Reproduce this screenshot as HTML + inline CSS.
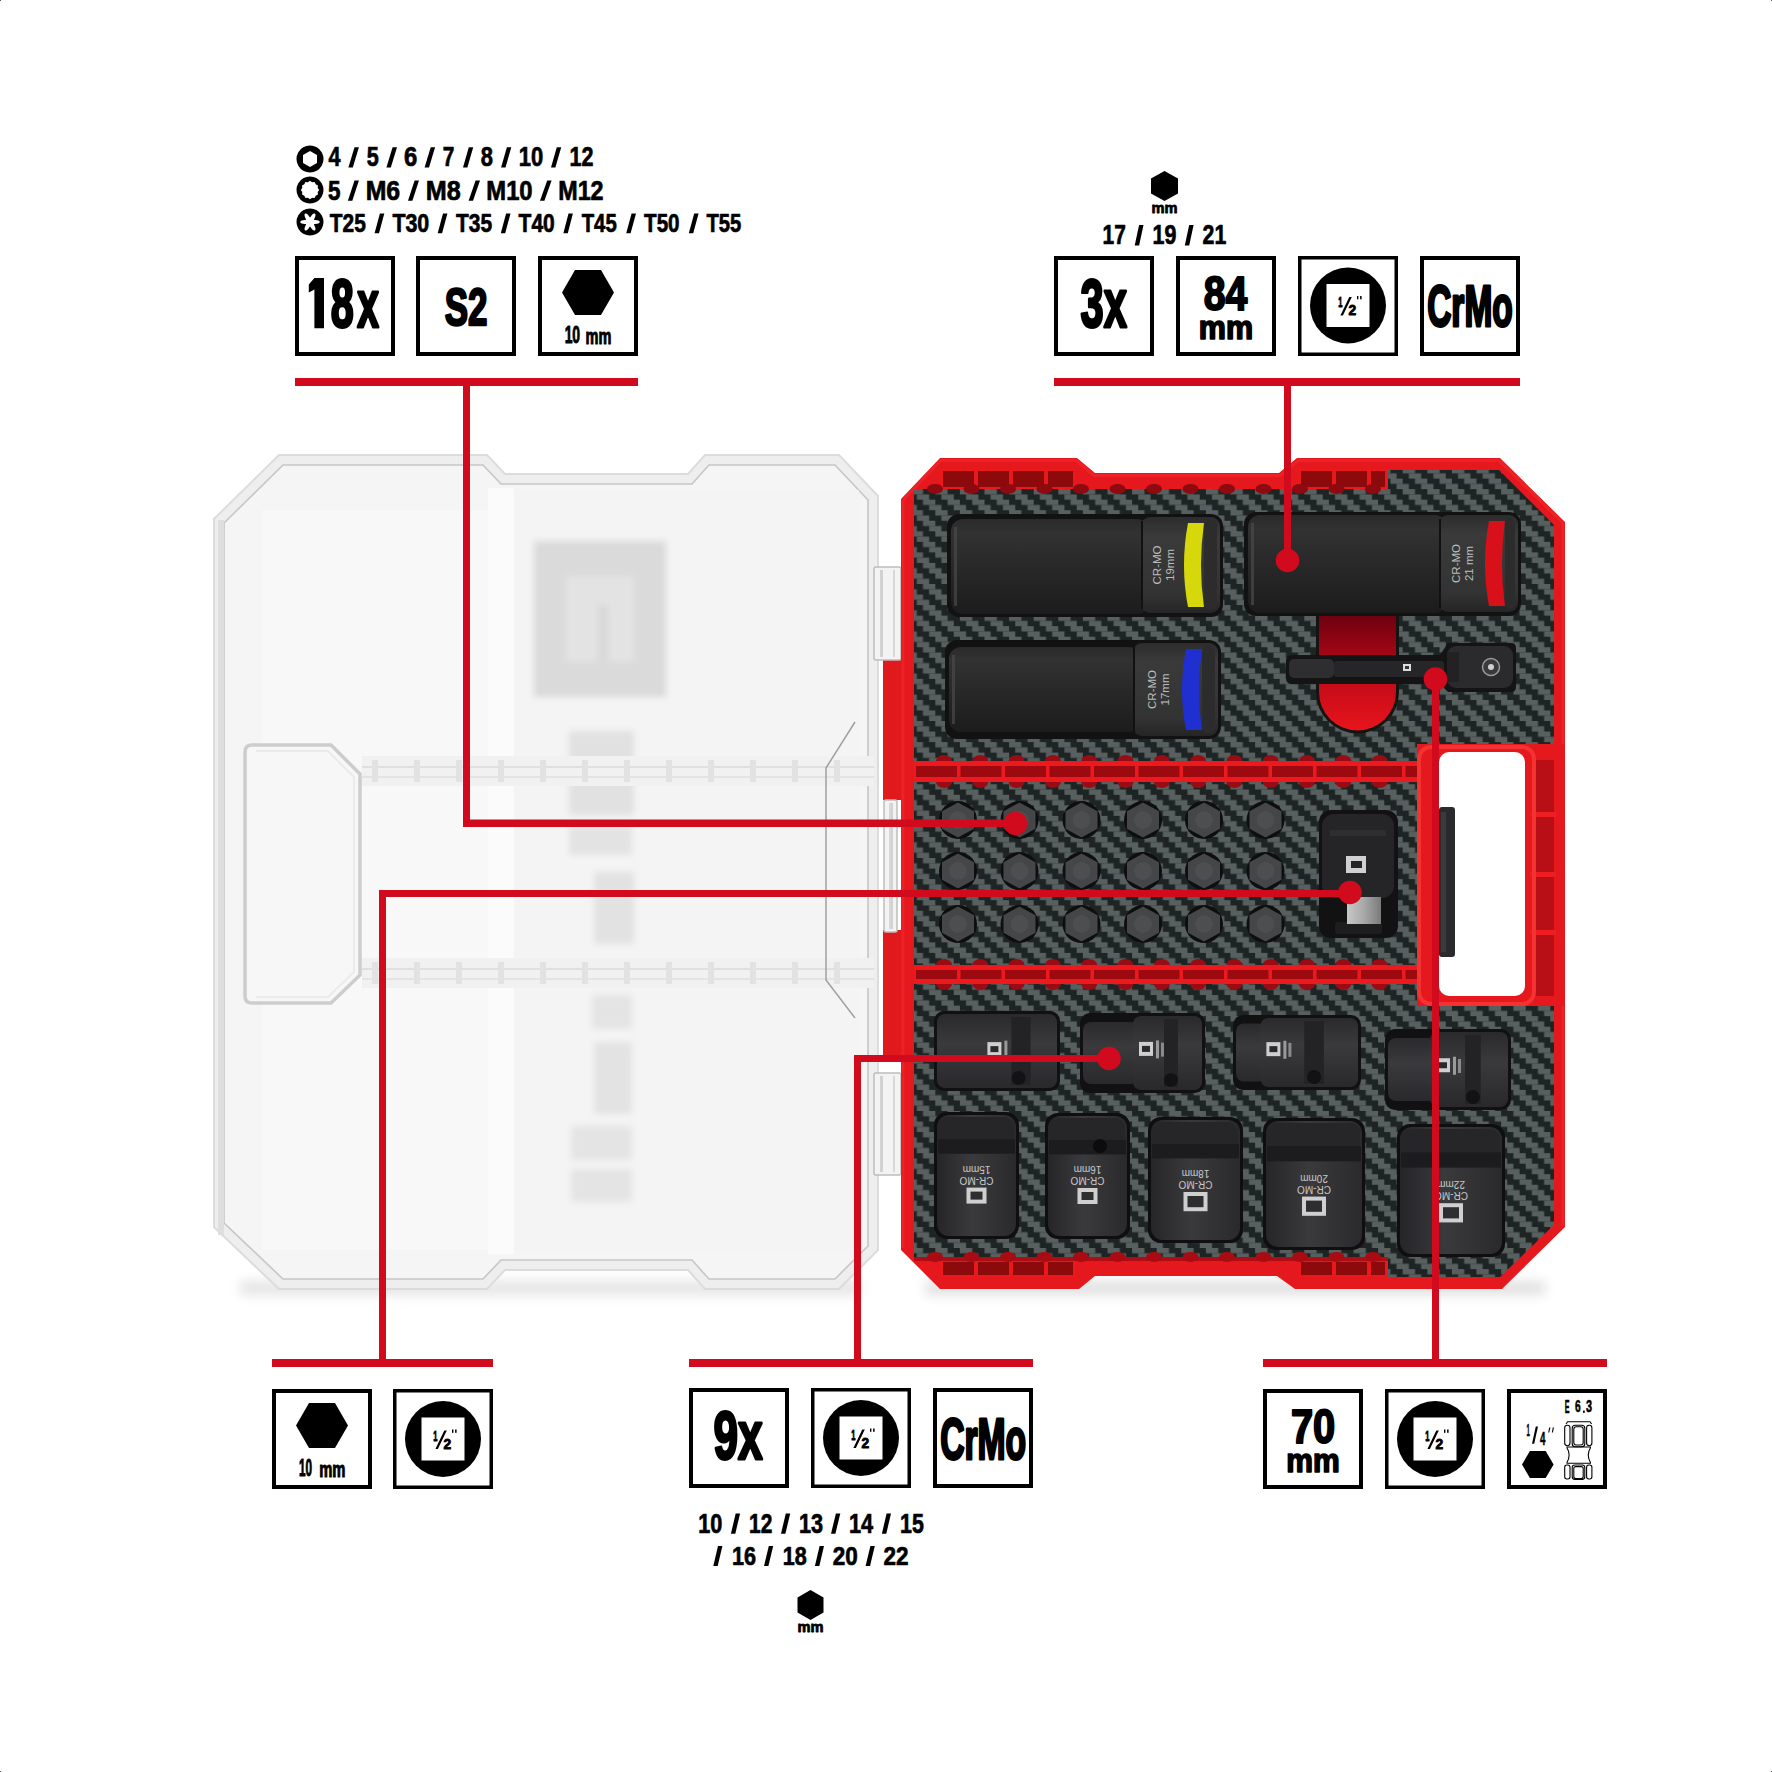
<!DOCTYPE html>
<html><head><meta charset="utf-8"><title>Impact socket set</title>
<style>
html,body{margin:0;padding:0;background:#fff;}
body{width:1772px;height:1772px;overflow:hidden;position:relative;}
svg{position:absolute;left:0;top:0;display:block;}
text{font-family:"Liberation Sans",sans-serif;font-weight:bold;}
</style></head><body>
<svg width="1772" height="1772" viewBox="0 0 1772 1772">
<defs><pattern id="cf" patternUnits="userSpaceOnUse" width="24.6" height="21.08" x="0.5" y="4.3"><rect width="24.6" height="21.08" fill="#1e2424"/><rect x="0.00" y="0.00" width="12.30" height="5.27" fill="#585f5f"/><rect x="6.15" y="5.27" width="12.30" height="5.27" fill="#585f5f"/><rect x="12.30" y="10.54" width="12.30" height="5.27" fill="#585f5f"/><rect x="18.45" y="15.81" width="6.15" height="5.27" fill="#585f5f"/><rect x="0.00" y="15.81" width="6.15" height="5.27" fill="#585f5f"/></pattern><linearGradient id="sh" x1="0" y1="0" x2="0" y2="1"><stop offset="0" stop-color="#e2e2e2"/><stop offset="1" stop-color="#ffffff" stop-opacity="0"/></linearGradient><linearGradient id="sock" x1="0" y1="0" x2="0" y2="1"><stop offset="0" stop-color="#2a2a2b"/><stop offset="0.15" stop-color="#323233"/><stop offset="0.6" stop-color="#262627"/><stop offset="1" stop-color="#1c1c1d"/></linearGradient><linearGradient id="sockend" x1="0" y1="0" x2="0" y2="1"><stop offset="0" stop-color="#2c2c2d"/><stop offset="0.2" stop-color="#3a3a3b"/><stop offset="0.8" stop-color="#333334"/><stop offset="1" stop-color="#252526"/></linearGradient><linearGradient id="sockv" x1="0" y1="0" x2="1" y2="0"><stop offset="0" stop-color="#262628"/><stop offset="0.45" stop-color="#3a3a3c"/><stop offset="1" stop-color="#2a2a2c"/></linearGradient><linearGradient id="sockh" x1="0" y1="0" x2="0" y2="1"><stop offset="0" stop-color="#2a2a2c"/><stop offset="0.4" stop-color="#3a3a3c"/><stop offset="1" stop-color="#29292b"/></linearGradient><linearGradient id="slotred" x1="0" y1="0" x2="0" y2="1"><stop offset="0" stop-color="#6a0010"/><stop offset="0.55" stop-color="#c00a18"/><stop offset="1" stop-color="#e8141c"/></linearGradient><linearGradient id="silver" x1="0" y1="0" x2="1" y2="0"><stop offset="0" stop-color="#c8c8c8"/><stop offset="0.5" stop-color="#a8a8a8"/><stop offset="1" stop-color="#7a7a7a"/></linearGradient><filter id="blur3" x="-10%" y="-10%" width="120%" height="120%"><feGaussianBlur stdDeviation="3"/></filter><filter id="blur6" x="-10%" y="-100%" width="120%" height="300%"><feGaussianBlur stdDeviation="6"/></filter><filter id="blur1" x="-10%" y="-10%" width="120%" height="120%"><feGaussianBlur stdDeviation="1.2"/></filter></defs>
<g filter="url(#blur6)"><rect x="240" y="1281" width="620" height="14" fill="#e4e4e4"/><rect x="925" y="1281" width="620" height="14" fill="#e0e0e0"/></g>
<polygon points="279.0,455.0 487.0,455.0 505.0,474.0 688.0,474.0 705.0,455.0 839.0,455.0 878.0,496.0 878.0,1250.0 839.0,1289.0 705.0,1289.0 688.0,1270.0 505.0,1270.0 487.0,1289.0 279.0,1289.0 214.0,1227.0 214.0,519.0" fill="#eeeeee" stroke="#dcdcdc" stroke-width="2"/>
<polygon points="283.0,465.0 483.0,465.0 501.0,484.0 692.0,484.0 709.0,465.0 835.0,465.0 868.0,500.0 868.0,1246.0 835.0,1279.0 709.0,1279.0 692.0,1260.0 501.0,1260.0 483.0,1279.0 283.0,1279.0 224.0,1223.0 224.0,523.0" fill="#f5f5f6" stroke="#c6c6c6" stroke-width="1.6"/>
<rect x="218" y="520" width="6" height="715" fill="#dedede"/>
<rect x="262" y="510" width="590" height="740" fill="#f8f8f8"/>
<rect x="514" y="490" width="345" height="760" fill="#f4f4f5"/>
<rect x="488" y="488" width="26" height="766" fill="#fbfbfb"/>
<g filter="url(#blur3)">
<rect x="534" y="541" width="132" height="156" fill="#dadada"/>
<rect x="566" y="576" width="68" height="86" fill="#e3e3e3"/>
<rect x="598" y="605" width="10" height="57" fill="#d8d8d8"/>
<rect x="569" y="731" width="65" height="84" fill="#e1e1e1"/>
<rect x="569" y="826" width="63" height="29" fill="#e3e3e3"/>
<rect x="594" y="872" width="40" height="72" fill="#e2e2e2"/>
<rect x="592" y="995" width="40" height="34" fill="#e4e4e4"/>
<rect x="594" y="1042" width="38" height="72" fill="#e3e3e3"/>
<rect x="571" y="1126" width="61" height="34" fill="#e4e4e4"/>
<rect x="571" y="1169" width="61" height="33" fill="#e4e4e4"/>
</g>
<rect x="362" y="756" width="512" height="30" fill="#f1f1f1"/>
<rect x="362" y="766" width="512" height="2" fill="#e0e0e0"/>
<rect x="362" y="776" width="512" height="2" fill="#e4e4e4"/>
<rect x="372" y="760" width="6" height="22" fill="#e2e2e2"/>
<rect x="414" y="760" width="6" height="22" fill="#e2e2e2"/>
<rect x="456" y="760" width="6" height="22" fill="#e2e2e2"/>
<rect x="498" y="760" width="6" height="22" fill="#e2e2e2"/>
<rect x="540" y="760" width="6" height="22" fill="#e2e2e2"/>
<rect x="582" y="760" width="6" height="22" fill="#e2e2e2"/>
<rect x="624" y="760" width="6" height="22" fill="#e2e2e2"/>
<rect x="666" y="760" width="6" height="22" fill="#e2e2e2"/>
<rect x="708" y="760" width="6" height="22" fill="#e2e2e2"/>
<rect x="750" y="760" width="6" height="22" fill="#e2e2e2"/>
<rect x="792" y="760" width="6" height="22" fill="#e2e2e2"/>
<rect x="834" y="760" width="6" height="22" fill="#e2e2e2"/>
<rect x="362" y="958" width="512" height="30" fill="#f1f1f1"/>
<rect x="362" y="968" width="512" height="2" fill="#e0e0e0"/>
<rect x="362" y="978" width="512" height="2" fill="#e4e4e4"/>
<rect x="372" y="962" width="6" height="22" fill="#e2e2e2"/>
<rect x="414" y="962" width="6" height="22" fill="#e2e2e2"/>
<rect x="456" y="962" width="6" height="22" fill="#e2e2e2"/>
<rect x="498" y="962" width="6" height="22" fill="#e2e2e2"/>
<rect x="540" y="962" width="6" height="22" fill="#e2e2e2"/>
<rect x="582" y="962" width="6" height="22" fill="#e2e2e2"/>
<rect x="624" y="962" width="6" height="22" fill="#e2e2e2"/>
<rect x="666" y="962" width="6" height="22" fill="#e2e2e2"/>
<rect x="708" y="962" width="6" height="22" fill="#e2e2e2"/>
<rect x="750" y="962" width="6" height="22" fill="#e2e2e2"/>
<rect x="792" y="962" width="6" height="22" fill="#e2e2e2"/>
<rect x="834" y="962" width="6" height="22" fill="#e2e2e2"/>
<path d="M252,745 L331,745 L360,774 L360,975 L331,1003 L252,1003 Q245,1003 245,996 L245,752 Q245,745 252,745 Z" fill="#f7f7f7" stroke="#cdcdcd" stroke-width="3.5"/>
<path d="M256,751 L328,751 L354,777 L354,972 L328,997 L256,997" fill="none" stroke="#ebebeb" stroke-width="2"/>
<polyline points="855,722 826,768 826,980 855,1018" fill="none" stroke="#a0a0a0" stroke-width="1.5"/>
<rect x="883" y="640" width="18" height="160" fill="#e01a1c"/>
<rect x="883" y="930" width="18" height="130" fill="#e01a1c"/>
<rect x="874" y="567" width="27" height="93" rx="2" fill="#f3f3f3" stroke="#bdbdbd" stroke-width="1.5"/>
<rect x="880" y="570" width="3" height="87" fill="#d2d2d2"/>
<rect x="893" y="570" width="2" height="87" fill="#d8d8d8"/>
<rect x="884" y="800" width="13" height="132" rx="2" fill="#f3f3f3" stroke="#bdbdbd" stroke-width="1.5"/>
<rect x="890" y="803" width="3" height="126" fill="#d2d2d2"/>
<rect x="889" y="803" width="2" height="126" fill="#d8d8d8"/>
<rect x="874" y="1073" width="27" height="102" rx="2" fill="#f3f3f3" stroke="#bdbdbd" stroke-width="1.5"/>
<rect x="880" y="1076" width="3" height="96" fill="#d2d2d2"/>
<rect x="893" y="1076" width="2" height="96" fill="#d8d8d8"/>
<polygon points="940.0,458.0 1077.0,458.0 1095.0,473.0 1279.0,473.0 1297.0,458.0 1500.0,458.0 1565.0,522.0 1565.0,1227.0 1502.0,1289.0 1295.0,1289.0 1277.0,1276.0 1095.0,1276.0 1079.0,1289.0 940.0,1289.0 901.0,1250.0 901.0,499.0" fill="#e5181d" />
<polyline points="903,1248 903,500 940.5,460.5 1076,460.5 1094,475.5 1280,475.5 1298,460.5 1499,460.5 1563,523 1563,1226" fill="none" stroke="#ee2226" stroke-width="3"/>
<polygon points="914.0,489.0 1388.0,489.0 1388.0,470.0 1499.0,470.0 1554.0,525.0 1554.0,1225.0 1500.0,1277.0 1388.0,1277.0 1388.0,1257.0 914.0,1257.0" fill="url(#cf)" />
<rect x="940" y="469" width="136" height="20" fill="#e8181d"/>
<rect x="943" y="471" width="31" height="16" fill="#8c0a0c"/>
<rect x="978" y="471" width="31" height="16" fill="#8c0a0c"/>
<rect x="1013" y="471" width="31" height="16" fill="#8c0a0c"/>
<rect x="1048" y="471" width="25" height="16" fill="#8c0a0c"/>
<rect x="1298" y="469" width="90" height="20" fill="#e8181d"/>
<rect x="1301" y="471" width="31" height="16" fill="#8c0a0c"/>
<rect x="1336" y="471" width="31" height="16" fill="#8c0a0c"/>
<rect x="1371" y="471" width="14" height="16" fill="#8c0a0c"/>
<rect x="940" y="1260" width="136" height="17" fill="#e8181d"/>
<rect x="943" y="1262" width="31" height="13" fill="#8c0a0c"/>
<rect x="978" y="1262" width="31" height="13" fill="#8c0a0c"/>
<rect x="1013" y="1262" width="31" height="13" fill="#8c0a0c"/>
<rect x="1048" y="1262" width="25" height="13" fill="#8c0a0c"/>
<rect x="1298" y="1260" width="90" height="17" fill="#e8181d"/>
<rect x="1301" y="1262" width="31" height="13" fill="#8c0a0c"/>
<rect x="1336" y="1262" width="31" height="13" fill="#8c0a0c"/>
<rect x="1371" y="1262" width="14" height="13" fill="#8c0a0c"/>
<rect x="914" y="1257" width="474" height="4" fill="#b00c14"/>
<ellipse cx="935.0" cy="489" rx="8" ry="5" fill="#8c0a10"/>
<ellipse cx="935.0" cy="1257" rx="8" ry="5" fill="#a80c12"/>
<ellipse cx="971.5" cy="489" rx="8" ry="5" fill="#8c0a10"/>
<ellipse cx="971.5" cy="1257" rx="8" ry="5" fill="#a80c12"/>
<ellipse cx="1008.0" cy="489" rx="8" ry="5" fill="#8c0a10"/>
<ellipse cx="1008.0" cy="1257" rx="8" ry="5" fill="#a80c12"/>
<ellipse cx="1044.5" cy="489" rx="8" ry="5" fill="#8c0a10"/>
<ellipse cx="1044.5" cy="1257" rx="8" ry="5" fill="#a80c12"/>
<ellipse cx="1081.0" cy="489" rx="8" ry="5" fill="#8c0a10"/>
<ellipse cx="1081.0" cy="1257" rx="8" ry="5" fill="#a80c12"/>
<ellipse cx="1117.5" cy="489" rx="8" ry="5" fill="#8c0a10"/>
<ellipse cx="1117.5" cy="1257" rx="8" ry="5" fill="#a80c12"/>
<ellipse cx="1154.0" cy="489" rx="8" ry="5" fill="#8c0a10"/>
<ellipse cx="1154.0" cy="1257" rx="8" ry="5" fill="#a80c12"/>
<ellipse cx="1190.5" cy="489" rx="8" ry="5" fill="#8c0a10"/>
<ellipse cx="1190.5" cy="1257" rx="8" ry="5" fill="#a80c12"/>
<ellipse cx="1227.0" cy="489" rx="8" ry="5" fill="#8c0a10"/>
<ellipse cx="1227.0" cy="1257" rx="8" ry="5" fill="#a80c12"/>
<ellipse cx="1263.5" cy="489" rx="8" ry="5" fill="#8c0a10"/>
<ellipse cx="1263.5" cy="1257" rx="8" ry="5" fill="#a80c12"/>
<ellipse cx="1300.0" cy="489" rx="8" ry="5" fill="#8c0a10"/>
<ellipse cx="1300.0" cy="1257" rx="8" ry="5" fill="#a80c12"/>
<ellipse cx="1336.5" cy="489" rx="8" ry="5" fill="#8c0a10"/>
<ellipse cx="1336.5" cy="1257" rx="8" ry="5" fill="#a80c12"/>
<ellipse cx="1373.0" cy="489" rx="8" ry="5" fill="#8c0a10"/>
<ellipse cx="1373.0" cy="1257" rx="8" ry="5" fill="#a80c12"/>
<ellipse cx="944.0" cy="761" rx="8" ry="6" fill="#9a0c14"/>
<ellipse cx="944.0" cy="782" rx="8" ry="6" fill="#9a0c14"/>
<ellipse cx="980.3" cy="761" rx="8" ry="6" fill="#9a0c14"/>
<ellipse cx="980.3" cy="782" rx="8" ry="6" fill="#9a0c14"/>
<ellipse cx="1016.6" cy="761" rx="8" ry="6" fill="#9a0c14"/>
<ellipse cx="1016.6" cy="782" rx="8" ry="6" fill="#9a0c14"/>
<ellipse cx="1052.9" cy="761" rx="8" ry="6" fill="#9a0c14"/>
<ellipse cx="1052.9" cy="782" rx="8" ry="6" fill="#9a0c14"/>
<ellipse cx="1089.2" cy="761" rx="8" ry="6" fill="#9a0c14"/>
<ellipse cx="1089.2" cy="782" rx="8" ry="6" fill="#9a0c14"/>
<ellipse cx="1125.5" cy="761" rx="8" ry="6" fill="#9a0c14"/>
<ellipse cx="1125.5" cy="782" rx="8" ry="6" fill="#9a0c14"/>
<ellipse cx="1161.8" cy="761" rx="8" ry="6" fill="#9a0c14"/>
<ellipse cx="1161.8" cy="782" rx="8" ry="6" fill="#9a0c14"/>
<ellipse cx="1198.1" cy="761" rx="8" ry="6" fill="#9a0c14"/>
<ellipse cx="1198.1" cy="782" rx="8" ry="6" fill="#9a0c14"/>
<ellipse cx="1234.4" cy="761" rx="8" ry="6" fill="#9a0c14"/>
<ellipse cx="1234.4" cy="782" rx="8" ry="6" fill="#9a0c14"/>
<ellipse cx="1270.7" cy="761" rx="8" ry="6" fill="#9a0c14"/>
<ellipse cx="1270.7" cy="782" rx="8" ry="6" fill="#9a0c14"/>
<ellipse cx="1307.0" cy="761" rx="8" ry="6" fill="#9a0c14"/>
<ellipse cx="1307.0" cy="782" rx="8" ry="6" fill="#9a0c14"/>
<ellipse cx="1343.3" cy="761" rx="8" ry="6" fill="#9a0c14"/>
<ellipse cx="1343.3" cy="782" rx="8" ry="6" fill="#9a0c14"/>
<ellipse cx="1379.6" cy="761" rx="8" ry="6" fill="#9a0c14"/>
<ellipse cx="1379.6" cy="782" rx="8" ry="6" fill="#9a0c14"/>
<rect x="914" y="761" width="506" height="21" fill="#ec1a1e"/>
<rect x="916" y="766" width="41" height="11" fill="#9c0a10"/>
<rect x="960.5" y="766" width="41" height="11" fill="#9c0a10"/>
<rect x="1005.0" y="766" width="41" height="11" fill="#9c0a10"/>
<rect x="1049.5" y="766" width="41" height="11" fill="#9c0a10"/>
<rect x="1094.0" y="766" width="41" height="11" fill="#9c0a10"/>
<rect x="1138.5" y="766" width="41" height="11" fill="#9c0a10"/>
<rect x="1183.0" y="766" width="41" height="11" fill="#9c0a10"/>
<rect x="1227.5" y="766" width="41" height="11" fill="#9c0a10"/>
<rect x="1272.0" y="766" width="41" height="11" fill="#9c0a10"/>
<rect x="1316.5" y="766" width="41" height="11" fill="#9c0a10"/>
<rect x="1361.0" y="766" width="41" height="11" fill="#9c0a10"/>
<rect x="1405.5" y="766" width="11.5" height="11" fill="#9c0a10"/>
<ellipse cx="944.0" cy="965" rx="8" ry="6" fill="#9a0c14"/>
<ellipse cx="944.0" cy="984" rx="8" ry="6" fill="#9a0c14"/>
<ellipse cx="980.3" cy="965" rx="8" ry="6" fill="#9a0c14"/>
<ellipse cx="980.3" cy="984" rx="8" ry="6" fill="#9a0c14"/>
<ellipse cx="1016.6" cy="965" rx="8" ry="6" fill="#9a0c14"/>
<ellipse cx="1016.6" cy="984" rx="8" ry="6" fill="#9a0c14"/>
<ellipse cx="1052.9" cy="965" rx="8" ry="6" fill="#9a0c14"/>
<ellipse cx="1052.9" cy="984" rx="8" ry="6" fill="#9a0c14"/>
<ellipse cx="1089.2" cy="965" rx="8" ry="6" fill="#9a0c14"/>
<ellipse cx="1089.2" cy="984" rx="8" ry="6" fill="#9a0c14"/>
<ellipse cx="1125.5" cy="965" rx="8" ry="6" fill="#9a0c14"/>
<ellipse cx="1125.5" cy="984" rx="8" ry="6" fill="#9a0c14"/>
<ellipse cx="1161.8" cy="965" rx="8" ry="6" fill="#9a0c14"/>
<ellipse cx="1161.8" cy="984" rx="8" ry="6" fill="#9a0c14"/>
<ellipse cx="1198.1" cy="965" rx="8" ry="6" fill="#9a0c14"/>
<ellipse cx="1198.1" cy="984" rx="8" ry="6" fill="#9a0c14"/>
<ellipse cx="1234.4" cy="965" rx="8" ry="6" fill="#9a0c14"/>
<ellipse cx="1234.4" cy="984" rx="8" ry="6" fill="#9a0c14"/>
<ellipse cx="1270.7" cy="965" rx="8" ry="6" fill="#9a0c14"/>
<ellipse cx="1270.7" cy="984" rx="8" ry="6" fill="#9a0c14"/>
<ellipse cx="1307.0" cy="965" rx="8" ry="6" fill="#9a0c14"/>
<ellipse cx="1307.0" cy="984" rx="8" ry="6" fill="#9a0c14"/>
<ellipse cx="1343.3" cy="965" rx="8" ry="6" fill="#9a0c14"/>
<ellipse cx="1343.3" cy="984" rx="8" ry="6" fill="#9a0c14"/>
<ellipse cx="1379.6" cy="965" rx="8" ry="6" fill="#9a0c14"/>
<ellipse cx="1379.6" cy="984" rx="8" ry="6" fill="#9a0c14"/>
<rect x="914" y="965" width="506" height="19" fill="#ec1a1e"/>
<rect x="916" y="970" width="41" height="9" fill="#9c0a10"/>
<rect x="960.5" y="970" width="41" height="9" fill="#9c0a10"/>
<rect x="1005.0" y="970" width="41" height="9" fill="#9c0a10"/>
<rect x="1049.5" y="970" width="41" height="9" fill="#9c0a10"/>
<rect x="1094.0" y="970" width="41" height="9" fill="#9c0a10"/>
<rect x="1138.5" y="970" width="41" height="9" fill="#9c0a10"/>
<rect x="1183.0" y="970" width="41" height="9" fill="#9c0a10"/>
<rect x="1227.5" y="970" width="41" height="9" fill="#9c0a10"/>
<rect x="1272.0" y="970" width="41" height="9" fill="#9c0a10"/>
<rect x="1316.5" y="970" width="41" height="9" fill="#9c0a10"/>
<rect x="1361.0" y="970" width="41" height="9" fill="#9c0a10"/>
<rect x="1405.5" y="970" width="11.5" height="9" fill="#9c0a10"/>
<rect x="1417" y="744" width="148" height="262" fill="#e5181d"/>
<rect x="1532" y="760" width="22" height="236" fill="#b80e16"/>
<rect x="1530" y="812" width="26" height="5" fill="#ec1e22"/>
<rect x="1530" y="872" width="26" height="5" fill="#ec1e22"/>
<rect x="1530" y="930" width="26" height="5" fill="#ec1e22"/>
<rect x="1419" y="747" width="115" height="257" rx="12" fill="none" stroke="#f43232" stroke-width="4"/>
<rect x="1439" y="752" width="86" height="244" rx="10" fill="#ffffff"/>
<rect x="1439" y="807" width="16" height="150" rx="3" fill="#2a2a2c"/>
<rect x="1441" y="812" width="5" height="140" fill="#3a3a3c"/>
<rect x="947" y="514" width="276" height="103" rx="12" fill="#121212"/>
<rect x="951" y="519" width="198" height="95" rx="12" fill="url(#sock)"/>
<rect x="954" y="527" width="3" height="79" fill="#4a4a4b" opacity="0.7"/>
<rect x="1141" y="517" width="79" height="96" rx="9" fill="url(#sockend)"/>
<rect x="1141" y="521" width="2" height="88" fill="#111"/>
<path d="M1188,523 L1204,523 Q1198,565.0 1204,607 L1188,607 Q1180,565.0 1188,523 Z" fill="#d6d80c"/>
<rect x="1204" y="520" width="13" height="90" rx="6" fill="#2c2c2d"/>
<text transform="translate(1160.5,565.0) rotate(-90)" text-anchor="middle" font-size="11.5" style="font-weight:normal" fill="#bdbdbd">CR-MO</text>
<text transform="translate(1173.5,565.0) rotate(-90)" text-anchor="middle" font-size="11.5" style="font-weight:normal" fill="#bdbdbd">19mm</text>
<rect x="945" y="640" width="276" height="99" rx="12" fill="#121212"/>
<rect x="949" y="647" width="192" height="85" rx="12" fill="url(#sock)"/>
<rect x="952" y="655" width="3" height="69" fill="#4a4a4b" opacity="0.7"/>
<rect x="1133" y="643" width="85" height="93" rx="9" fill="url(#sockend)"/>
<rect x="1133" y="647" width="2" height="85" fill="#111"/>
<path d="M1186,649 L1202,649 Q1196,689.5 1202,730 L1186,730 Q1178,689.5 1186,649 Z" fill="#2030d0"/>
<rect x="1202" y="646" width="13" height="87" rx="6" fill="#2c2c2d"/>
<text transform="translate(1155.5,689.5) rotate(-90)" text-anchor="middle" font-size="11.5" style="font-weight:normal" fill="#bdbdbd">CR-MO</text>
<text transform="translate(1168.5,689.5) rotate(-90)" text-anchor="middle" font-size="11.5" style="font-weight:normal" fill="#bdbdbd">17mm</text>
<path d="M1316,612 L1399,612 L1399,692 A41.5,41.5 0 0 1 1316,692 Z" fill="#141414"/>
<path d="M1319,612 L1396,612 L1396,692 A38.5,38.5 0 0 1 1319,692 Z" fill="url(#slotred)"/>
<rect x="1244" y="512" width="277" height="104" rx="12" fill="#121212"/>
<rect x="1248" y="515" width="199" height="98" rx="12" fill="url(#sock)"/>
<rect x="1251" y="523" width="3" height="82" fill="#4a4a4b" opacity="0.7"/>
<rect x="1439" y="515" width="79" height="97" rx="9" fill="url(#sockend)"/>
<rect x="1439" y="519" width="2" height="89" fill="#111"/>
<path d="M1489,521 L1505,521 Q1499,563.5 1505,606 L1489,606 Q1481,563.5 1489,521 Z" fill="#d8101a"/>
<rect x="1505" y="518" width="10" height="91" rx="6" fill="#2c2c2d"/>
<text transform="translate(1460.0,563.5) rotate(-90)" text-anchor="middle" font-size="11.5" style="font-weight:normal" fill="#bdbdbd">CR-MO</text>
<text transform="translate(1473.0,563.5) rotate(-90)" text-anchor="middle" font-size="11.5" style="font-weight:normal" fill="#bdbdbd">21 mm</text>
<path d="M1292,655 L1440,655 L1448,643 L1511,643 Q1516,643 1516,648 L1516,687 Q1516,692 1511,692 L1448,692 L1440,684 L1292,684 Q1286,684 1286,678 L1286,661 Q1286,655 1292,655 Z" fill="#141414"/>
<rect x="1289" y="659" width="45" height="19" rx="5" fill="#2e2e30"/>
<rect x="1334" y="661" width="110" height="16" rx="3" fill="#262628"/>
<rect x="1447" y="646" width="66" height="42" rx="9" fill="#2b2b2d"/>
<rect x="1447" y="652" width="12" height="30" fill="#222224"/>
<circle cx="1491" cy="667" r="8.5" fill="#3a3a3a" stroke="#9a9a9a" stroke-width="1.5"/>
<circle cx="1491" cy="667" r="3" fill="#d0d0d0"/>
<rect x="1403" y="664" width="8" height="7" fill="#ddd"/><rect x="1405" y="666" width="4" height="3" fill="#333"/>
<circle cx="958" cy="820" r="19" fill="#0e0e0e"/>
<polygon points="958.0,802.5 974.0,811.2 974.0,828.8 958.0,837.5 942.0,828.8 942.0,811.2" fill="#444647"/>
<circle cx="958" cy="820" r="9" fill="#4c4e4f"/>
<circle cx="1019.5" cy="820" r="19" fill="#0e0e0e"/>
<polygon points="1019.5,802.5 1035.5,811.2 1035.5,828.8 1019.5,837.5 1003.5,828.8 1003.5,811.2" fill="#444647"/>
<circle cx="1019.5" cy="820" r="9" fill="#4c4e4f"/>
<circle cx="1081.5" cy="820" r="19" fill="#0e0e0e"/>
<polygon points="1081.5,802.5 1097.5,811.2 1097.5,828.8 1081.5,837.5 1065.5,828.8 1065.5,811.2" fill="#444647"/>
<circle cx="1081.5" cy="820" r="9" fill="#4c4e4f"/>
<circle cx="1143" cy="820" r="19" fill="#0e0e0e"/>
<polygon points="1143.0,802.5 1159.0,811.2 1159.0,828.8 1143.0,837.5 1127.0,828.8 1127.0,811.2" fill="#444647"/>
<circle cx="1143" cy="820" r="9" fill="#4c4e4f"/>
<circle cx="1204" cy="820" r="19" fill="#0e0e0e"/>
<polygon points="1204.0,802.5 1220.0,811.2 1220.0,828.8 1204.0,837.5 1188.0,828.8 1188.0,811.2" fill="#444647"/>
<circle cx="1204" cy="820" r="9" fill="#4c4e4f"/>
<circle cx="1265.5" cy="820" r="19" fill="#0e0e0e"/>
<polygon points="1265.5,802.5 1281.5,811.2 1281.5,828.8 1265.5,837.5 1249.5,828.8 1249.5,811.2" fill="#444647"/>
<circle cx="1265.5" cy="820" r="9" fill="#4c4e4f"/>
<circle cx="958" cy="871" r="19" fill="#0e0e0e"/>
<polygon points="958.0,853.5 974.0,862.2 974.0,879.8 958.0,888.5 942.0,879.8 942.0,862.2" fill="#444647"/>
<circle cx="958" cy="871" r="9" fill="#4c4e4f"/>
<circle cx="1019.5" cy="871" r="19" fill="#0e0e0e"/>
<polygon points="1019.5,853.5 1035.5,862.2 1035.5,879.8 1019.5,888.5 1003.5,879.8 1003.5,862.2" fill="#444647"/>
<circle cx="1019.5" cy="871" r="9" fill="#4c4e4f"/>
<circle cx="1081.5" cy="871" r="19" fill="#0e0e0e"/>
<polygon points="1081.5,853.5 1097.5,862.2 1097.5,879.8 1081.5,888.5 1065.5,879.8 1065.5,862.2" fill="#444647"/>
<circle cx="1081.5" cy="871" r="9" fill="#4c4e4f"/>
<circle cx="1143" cy="871" r="19" fill="#0e0e0e"/>
<polygon points="1143.0,853.5 1159.0,862.2 1159.0,879.8 1143.0,888.5 1127.0,879.8 1127.0,862.2" fill="#444647"/>
<circle cx="1143" cy="871" r="9" fill="#4c4e4f"/>
<circle cx="1204" cy="871" r="19" fill="#0e0e0e"/>
<polygon points="1204.0,853.5 1220.0,862.2 1220.0,879.8 1204.0,888.5 1188.0,879.8 1188.0,862.2" fill="#444647"/>
<circle cx="1204" cy="871" r="9" fill="#4c4e4f"/>
<circle cx="1265.5" cy="871" r="19" fill="#0e0e0e"/>
<polygon points="1265.5,853.5 1281.5,862.2 1281.5,879.8 1265.5,888.5 1249.5,879.8 1249.5,862.2" fill="#444647"/>
<circle cx="1265.5" cy="871" r="9" fill="#4c4e4f"/>
<circle cx="958" cy="924" r="19" fill="#0e0e0e"/>
<polygon points="958.0,906.5 974.0,915.2 974.0,932.8 958.0,941.5 942.0,932.8 942.0,915.2" fill="#444647"/>
<circle cx="958" cy="924" r="9" fill="#4c4e4f"/>
<circle cx="1019.5" cy="924" r="19" fill="#0e0e0e"/>
<polygon points="1019.5,906.5 1035.5,915.2 1035.5,932.8 1019.5,941.5 1003.5,932.8 1003.5,915.2" fill="#444647"/>
<circle cx="1019.5" cy="924" r="9" fill="#4c4e4f"/>
<circle cx="1081.5" cy="924" r="19" fill="#0e0e0e"/>
<polygon points="1081.5,906.5 1097.5,915.2 1097.5,932.8 1081.5,941.5 1065.5,932.8 1065.5,915.2" fill="#444647"/>
<circle cx="1081.5" cy="924" r="9" fill="#4c4e4f"/>
<circle cx="1143" cy="924" r="19" fill="#0e0e0e"/>
<polygon points="1143.0,906.5 1159.0,915.2 1159.0,932.8 1143.0,941.5 1127.0,932.8 1127.0,915.2" fill="#444647"/>
<circle cx="1143" cy="924" r="9" fill="#4c4e4f"/>
<circle cx="1204" cy="924" r="19" fill="#0e0e0e"/>
<polygon points="1204.0,906.5 1220.0,915.2 1220.0,932.8 1204.0,941.5 1188.0,932.8 1188.0,915.2" fill="#444647"/>
<circle cx="1204" cy="924" r="9" fill="#4c4e4f"/>
<circle cx="1265.5" cy="924" r="19" fill="#0e0e0e"/>
<polygon points="1265.5,906.5 1281.5,915.2 1281.5,932.8 1265.5,941.5 1249.5,932.8 1249.5,915.2" fill="#444647"/>
<circle cx="1265.5" cy="924" r="9" fill="#4c4e4f"/>
<rect x="1319" y="810" width="79" height="128" rx="12" fill="#121212"/>
<rect x="1322" y="814" width="72" height="84" rx="12" fill="#252527"/>
<rect x="1330" y="830" width="56" height="6" fill="#2e2e30"/>
<rect x="1335" y="922" width="47" height="12" rx="3" fill="#1e1e20"/>
<rect x="1347" y="897" width="34" height="27" fill="url(#silver)"/>
<rect x="1346" y="856" width="20" height="17" fill="#d0d0d0"/><rect x="1351" y="861" width="11" height="7" fill="#252527"/>
<rect x="934" y="1011" width="126" height="80" rx="10" fill="#111"/>
<rect x="937" y="1014" width="120" height="74" rx="8" fill="url(#sockh)"/>
<rect x="1011.4" y="1017" width="19.2" height="68" fill="#232325"/>
<circle cx="1018.6" cy="1078" r="7" fill="#121212"/>
<rect x="987.4" y="1042.12" width="14" height="14" fill="#cfcfcf"/><rect x="990.4" y="1046.12" width="8" height="6" fill="#2a2a2c"/>
<rect x="1004.4" y="1040.64" width="3" height="18" fill="#9a9a9a"/>
<rect x="1080" y="1013" width="125" height="80" rx="10" fill="#111"/>
<rect x="1083" y="1021.92" width="55.98000000000002" height="62.16" rx="8" fill="url(#sockh)"/>
<rect x="1132.98" y="1016" width="69.01999999999998" height="74" rx="8" fill="url(#sockh)"/>
<rect x="1164.039" y="1019" width="13.803999999999997" height="68" fill="#232325"/>
<circle cx="1170.941" cy="1080" r="7" fill="#121212"/>
<rect x="1138.98" y="1041.9" width="14" height="14" fill="#cfcfcf"/><rect x="1141.98" y="1045.9" width="8" height="6" fill="#2a2a2c"/>
<rect x="1155.98" y="1040.42" width="3" height="18" fill="#9a9a9a"/><rect x="1160.98" y="1042.64" width="3" height="14" fill="#8a8a8a"/>
<rect x="1233" y="1015" width="128" height="75" rx="10" fill="#111"/>
<rect x="1236" y="1023.52" width="30.40000000000009" height="57.96" rx="8" fill="url(#sockh)"/>
<rect x="1260.4" y="1018" width="97.59999999999991" height="69" rx="8" fill="url(#sockh)"/>
<rect x="1304.3200000000002" y="1021" width="19.519999999999982" height="63" fill="#232325"/>
<circle cx="1314.0800000000002" cy="1077" r="7" fill="#121212"/>
<rect x="1266.4" y="1042.15" width="14" height="14" fill="#cfcfcf"/><rect x="1269.4" y="1046.15" width="8" height="6" fill="#2a2a2c"/>
<rect x="1283.4" y="1040.77" width="3" height="18" fill="#9a9a9a"/><rect x="1288.4" y="1042.84" width="3" height="14" fill="#8a8a8a"/>
<rect x="1385" y="1029" width="126" height="81" rx="10" fill="#111"/>
<rect x="1388" y="1038.0" width="48.0" height="63.0" rx="8" fill="url(#sockh)"/>
<rect x="1430.0" y="1032" width="78.0" height="75" rx="8" fill="url(#sockh)"/>
<rect x="1465.1" y="1035" width="15.600000000000001" height="69" fill="#232325"/>
<circle cx="1472.9" cy="1097" r="7" fill="#121212"/>
<rect x="1436.0" y="1058.25" width="14" height="14" fill="#cfcfcf"/><rect x="1439.0" y="1062.25" width="8" height="6" fill="#2a2a2c"/>
<rect x="1453.0" y="1056.75" width="3" height="18" fill="#9a9a9a"/><rect x="1458.0" y="1059.0" width="3" height="14" fill="#8a8a8a"/>
<rect x="934" y="1112" width="85" height="127" rx="13" fill="#0f0f0f"/>
<rect x="937" y="1115" width="79" height="121" rx="12" fill="url(#sockv)"/>
<rect x="939" y="1117" width="75" height="36.3" rx="10" fill="#262628"/>
<rect x="938" y="1139.2" width="77" height="14.52" fill="#1c1c1e"/>
<rect x="966.5" y="1187.6" width="20" height="16.0" fill="#cfcfcf"/><rect x="970.5" y="1191.6" width="12" height="8.0" fill="#2e2e30"/>
<text transform="translate(976.5,1176.6) rotate(180)" text-anchor="middle" font-size="10" style="font-weight:normal" fill="#c8c8c8">CR-MO</text>
<text transform="translate(976.5,1165.6) rotate(180)" text-anchor="middle" font-size="10" style="font-weight:normal" fill="#c8c8c8">15mm</text>
<rect x="1045" y="1113" width="85" height="126" rx="13" fill="#0f0f0f"/>
<rect x="1048" y="1116" width="79" height="120" rx="12" fill="url(#sockv)"/>
<rect x="1050" y="1118" width="75" height="36.0" rx="10" fill="#262628"/>
<rect x="1049" y="1140.0" width="77" height="14.399999999999999" fill="#1c1c1e"/>
<rect x="1077.5" y="1188.0" width="20" height="16.0" fill="#cfcfcf"/><rect x="1081.5" y="1192.0" width="12" height="8.0" fill="#2e2e30"/>
<text transform="translate(1087.5,1177.0) rotate(180)" text-anchor="middle" font-size="10" style="font-weight:normal" fill="#c8c8c8">CR-MO</text>
<text transform="translate(1087.5,1166.0) rotate(180)" text-anchor="middle" font-size="10" style="font-weight:normal" fill="#c8c8c8">16mm</text>
<circle cx="1100" cy="1146" r="7" fill="#0c0c0c"/>
<rect x="1148" y="1117" width="95" height="126" rx="13" fill="#0f0f0f"/>
<rect x="1151" y="1120" width="89" height="120" rx="12" fill="url(#sockv)"/>
<rect x="1153" y="1122" width="85" height="36.0" rx="10" fill="#262628"/>
<rect x="1152" y="1144.0" width="87" height="14.399999999999999" fill="#1c1c1e"/>
<rect x="1183.5" y="1192.0" width="24" height="19.200000000000003" fill="#cfcfcf"/><rect x="1187.5" y="1196.0" width="16" height="11.200000000000003" fill="#2e2e30"/>
<text transform="translate(1195.5,1181.0) rotate(180)" text-anchor="middle" font-size="10" style="font-weight:normal" fill="#c8c8c8">CR-MO</text>
<text transform="translate(1195.5,1170.0) rotate(180)" text-anchor="middle" font-size="10" style="font-weight:normal" fill="#c8c8c8">18mm</text>
<rect x="1263" y="1118" width="102" height="132" rx="13" fill="#0f0f0f"/>
<rect x="1266" y="1121" width="96" height="126" rx="12" fill="url(#sockv)"/>
<rect x="1268" y="1123" width="92" height="37.8" rx="10" fill="#262628"/>
<rect x="1267" y="1146.2" width="94" height="15.12" fill="#1c1c1e"/>
<rect x="1302.0" y="1196.6" width="24" height="19.200000000000003" fill="#cfcfcf"/><rect x="1306.0" y="1200.6" width="16" height="11.200000000000003" fill="#2e2e30"/>
<text transform="translate(1314.0,1185.6) rotate(180)" text-anchor="middle" font-size="10" style="font-weight:normal" fill="#c8c8c8">CR-MO</text>
<text transform="translate(1314.0,1174.6) rotate(180)" text-anchor="middle" font-size="10" style="font-weight:normal" fill="#c8c8c8">20mm</text>
<rect x="1397" y="1124" width="108" height="133" rx="13" fill="#0f0f0f"/>
<rect x="1400" y="1127" width="102" height="127" rx="12" fill="url(#sockv)"/>
<rect x="1402" y="1129" width="98" height="38.1" rx="10" fill="#262628"/>
<rect x="1401" y="1152.4" width="100" height="15.24" fill="#1c1c1e"/>
<rect x="1439.0" y="1203.2" width="24" height="19.200000000000003" fill="#cfcfcf"/><rect x="1443.0" y="1207.2" width="16" height="11.200000000000003" fill="#2e2e30"/>
<text transform="translate(1451.0,1192.2) rotate(180)" text-anchor="middle" font-size="10" style="font-weight:normal" fill="#c8c8c8">CR-MO</text>
<text transform="translate(1451.0,1181.2) rotate(180)" text-anchor="middle" font-size="10" style="font-weight:normal" fill="#c8c8c8">22mm</text>
<rect x="295" y="378" width="343" height="8" fill="#d20a1e"/>
<rect x="463" y="378" width="7" height="449" fill="#d20a1e"/>
<rect x="463" y="819.5" width="552" height="7.5" fill="#d20a1e"/>
<circle cx="1015.5" cy="823.5" r="11.8" fill="#d20a1e"/>
<rect x="1054" y="378" width="466" height="8" fill="#d20a1e"/>
<rect x="1284" y="378" width="7" height="183" fill="#d20a1e"/>
<circle cx="1287.5" cy="560.5" r="11.8" fill="#d20a1e"/>
<rect x="272" y="1359" width="221" height="8" fill="#d20a1e"/>
<rect x="379" y="890" width="7" height="477" fill="#d20a1e"/>
<rect x="379" y="890" width="971" height="7" fill="#d20a1e"/>
<circle cx="1350" cy="892.5" r="11.8" fill="#d20a1e"/>
<rect x="689" y="1359" width="344" height="8" fill="#d20a1e"/>
<rect x="854" y="1055" width="7" height="312" fill="#d20a1e"/>
<rect x="854" y="1055" width="255" height="7" fill="#d20a1e"/>
<circle cx="1109" cy="1058.5" r="11.8" fill="#d20a1e"/>
<rect x="1263" y="1359" width="344" height="8" fill="#d20a1e"/>
<rect x="1432" y="679" width="7" height="688" fill="#d20a1e"/>
<circle cx="1435.5" cy="679" r="11.8" fill="#d20a1e"/>
<path d="M310,145.5 a13.5,13.5 0 1 0 0.01,0 Z M310,151 L317,155 L317,163 L310,167 L303,163 L303,155 Z" fill="#000" fill-rule="evenodd"/>
<path d="M310,176.5 a13.5,13.5 0 1 0 0.01,0 Z M319.20,190.00 L317.73,192.07 L317.97,194.60 L315.66,195.66 L314.60,197.97 L312.07,197.73 L310.00,199.20 L307.93,197.73 L305.40,197.97 L304.34,195.66 L302.03,194.60 L302.27,192.07 L300.80,190.00 L302.27,187.93 L302.03,185.40 L304.34,184.34 L305.40,182.03 L307.93,182.27 L310.00,180.80 L312.07,182.27 L314.60,182.03 L315.66,184.34 L317.97,185.40 L317.73,187.93 Z" fill="#000" fill-rule="evenodd"/>
<path d="M310,208.5 a13.5,13.5 0 1 0 0.01,0 Z M310.00,217.40 L310.43,217.07 L311.02,216.19 L311.86,215.05 L312.91,214.01 L313.99,213.43 L314.90,213.51 L315.42,214.26 L315.46,215.49 L315.09,216.91 L314.52,218.21 L314.05,219.16 L313.98,219.70 L314.48,219.91 L315.54,219.98 L316.95,220.14 L318.37,220.52 L319.42,221.18 L319.80,222.00 L319.42,222.82 L318.37,223.48 L316.95,223.86 L315.54,224.02 L314.48,224.09 L313.98,224.30 L314.05,224.84 L314.52,225.79 L315.09,227.09 L315.46,228.51 L315.42,229.74 L314.90,230.49 L313.99,230.57 L312.91,229.99 L311.86,228.95 L311.02,227.81 L310.43,226.93 L310.00,226.60 L309.57,226.93 L308.98,227.81 L308.14,228.95 L307.09,229.99 L306.01,230.57 L305.10,230.49 L304.58,229.74 L304.54,228.51 L304.91,227.09 L305.48,225.79 L305.95,224.84 L306.02,224.30 L305.52,224.09 L304.46,224.02 L303.05,223.86 L301.63,223.48 L300.58,222.82 L300.20,222.00 L300.58,221.18 L301.63,220.52 L303.05,220.14 L304.46,219.98 L305.52,219.91 L306.02,219.70 L305.95,219.16 L305.48,218.21 L304.91,216.91 L304.54,215.49 L304.58,214.26 L305.10,213.51 L306.01,213.43 L307.09,214.01 L308.14,215.05 L308.98,216.19 L309.57,217.07 Z" fill="#000" fill-rule="evenodd"/>
<text x="328.53" y="166.41" font-size="26.90" textLength="11.96" lengthAdjust="spacingAndGlyphs" fill="#000" stroke="#000" stroke-width="0.7" stroke-linejoin="round" >4</text>
<polygon points="348.4,167.6 352.8,167.6 358.9,147.3 354.5,147.3" fill="#000"/>
<text x="366.65" y="166.41" font-size="26.90" textLength="12.02" lengthAdjust="spacingAndGlyphs" fill="#000" stroke="#000" stroke-width="0.7" stroke-linejoin="round" >5</text>
<polygon points="386.4,167.6 390.8,167.6 397.0,147.3 392.6,147.3" fill="#000"/>
<text x="404.06" y="166.41" font-size="26.90" textLength="13.26" lengthAdjust="spacingAndGlyphs" fill="#000" stroke="#000" stroke-width="0.7" stroke-linejoin="round" >6</text>
<polygon points="424.6,167.6 429.0,167.6 435.1,147.3 430.7,147.3" fill="#000"/>
<text x="442.66" y="166.41" font-size="26.90" textLength="11.60" lengthAdjust="spacingAndGlyphs" fill="#000" stroke="#000" stroke-width="0.7" stroke-linejoin="round" >7</text>
<polygon points="463.0,167.6 467.4,167.6 473.2,147.3 468.8,147.3" fill="#000"/>
<text x="480.84" y="166.41" font-size="26.90" textLength="12.20" lengthAdjust="spacingAndGlyphs" fill="#000" stroke="#000" stroke-width="0.7" stroke-linejoin="round" >8</text>
<polygon points="501.1,167.6 505.5,167.6 511.3,147.3 506.9,147.3" fill="#000"/>
<text x="518.78" y="166.41" font-size="26.90" textLength="24.40" lengthAdjust="spacingAndGlyphs" fill="#000" stroke="#000" stroke-width="0.7" stroke-linejoin="round" >10</text>
<polygon points="551.0,167.6 555.4,167.6 561.2,147.3 556.8,147.3" fill="#000"/>
<text x="569.50" y="166.41" font-size="26.90" textLength="23.96" lengthAdjust="spacingAndGlyphs" fill="#000" stroke="#000" stroke-width="0.7" stroke-linejoin="round" >12</text>
<text x="328.12" y="199.51" font-size="26.90" textLength="12.47" lengthAdjust="spacingAndGlyphs" fill="#000" stroke="#000" stroke-width="0.7" stroke-linejoin="round" >5</text>
<polygon points="347.9,200.7 352.3,200.7 358.9,180.4 354.5,180.4" fill="#000"/>
<text x="365.67" y="199.51" font-size="26.90" textLength="34.49" lengthAdjust="spacingAndGlyphs" fill="#000" stroke="#000" stroke-width="0.7" stroke-linejoin="round" >M6</text>
<polygon points="408.0,200.7 412.4,200.7 419.0,180.4 414.6,180.4" fill="#000"/>
<text x="425.65" y="199.51" font-size="26.90" textLength="35.00" lengthAdjust="spacingAndGlyphs" fill="#000" stroke="#000" stroke-width="0.7" stroke-linejoin="round" >M8</text>
<polygon points="468.6,200.7 473.0,200.7 480.0,180.4 475.6,180.4" fill="#000"/>
<text x="486.34" y="199.51" font-size="26.90" textLength="46.26" lengthAdjust="spacingAndGlyphs" fill="#000" stroke="#000" stroke-width="0.7" stroke-linejoin="round" >M10</text>
<polygon points="540.0,200.7 544.4,200.7 551.6,180.4 547.2,180.4" fill="#000"/>
<text x="558.28" y="199.51" font-size="26.90" textLength="45.31" lengthAdjust="spacingAndGlyphs" fill="#000" stroke="#000" stroke-width="0.7" stroke-linejoin="round" >M12</text>
<text x="329.79" y="232.02" font-size="26.20" textLength="36.05" lengthAdjust="spacingAndGlyphs" fill="#000" stroke="#000" stroke-width="0.7" stroke-linejoin="round" >T25</text>
<polygon points="374.6,233.2 379.0,233.2 384.3,213.4 379.9,213.4" fill="#000"/>
<text x="392.38" y="232.02" font-size="26.20" textLength="36.84" lengthAdjust="spacingAndGlyphs" fill="#000" stroke="#000" stroke-width="0.7" stroke-linejoin="round" >T30</text>
<polygon points="437.7,233.2 442.1,233.2 447.4,213.4 443.0,213.4" fill="#000"/>
<text x="455.99" y="232.02" font-size="26.20" textLength="36.05" lengthAdjust="spacingAndGlyphs" fill="#000" stroke="#000" stroke-width="0.7" stroke-linejoin="round" >T35</text>
<polygon points="500.8,233.2 505.2,233.2 510.5,213.4 506.1,213.4" fill="#000"/>
<text x="518.59" y="232.02" font-size="26.20" textLength="36.12" lengthAdjust="spacingAndGlyphs" fill="#000" stroke="#000" stroke-width="0.7" stroke-linejoin="round" >T40</text>
<polygon points="563.4,233.2 567.8,233.2 572.9,213.4 568.5,213.4" fill="#000"/>
<text x="581.70" y="232.02" font-size="26.20" textLength="35.03" lengthAdjust="spacingAndGlyphs" fill="#000" stroke="#000" stroke-width="0.7" stroke-linejoin="round" >T45</text>
<polygon points="626.2,233.2 630.6,233.2 636.0,213.4 631.6,213.4" fill="#000"/>
<text x="644.09" y="232.02" font-size="26.20" textLength="35.50" lengthAdjust="spacingAndGlyphs" fill="#000" stroke="#000" stroke-width="0.7" stroke-linejoin="round" >T50</text>
<polygon points="688.8,233.2 693.2,233.2 698.6,213.4 694.2,213.4" fill="#000"/>
<text x="706.40" y="232.02" font-size="26.20" textLength="34.82" lengthAdjust="spacingAndGlyphs" fill="#000" stroke="#000" stroke-width="0.7" stroke-linejoin="round" >T55</text>
<rect x="297.0" y="258.0" width="96" height="96" fill="#fff" stroke="#000" stroke-width="4"/>
<rect x="418.0" y="258.0" width="96" height="96" fill="#fff" stroke="#000" stroke-width="4"/>
<rect x="540.0" y="258.0" width="96" height="96" fill="#fff" stroke="#000" stroke-width="4"/>
<polygon points="314.4,277.9 324,277.9 324,328.2 314.4,328.2 314.4,289.5 308.8,292.5 308.8,284.5" fill="#000"/>
<text x="330.75" y="326.51" font-size="68.98" textLength="23.04" lengthAdjust="spacingAndGlyphs" fill="#000" stroke="#000" stroke-width="3" stroke-linejoin="round" >8</text>
<text x="357.21" y="326.70" font-size="67.49" textLength="21.63" lengthAdjust="spacingAndGlyphs" fill="#000" stroke="#000" stroke-width="3" stroke-linejoin="round" >x</text>
<text x="444.65" y="325.28" font-size="51.73" textLength="42.77" lengthAdjust="spacingAndGlyphs" fill="#000" stroke="#000" stroke-width="2.4" stroke-linejoin="round" >S2</text>
<polygon points="562.0,292.5 575.0,270.0 601.0,270.0 614.0,292.5 601.0,315.0 575.0,315.0" fill="#000"/>
<text x="564.63" y="343.26" font-size="24.31" textLength="15.46" lengthAdjust="spacingAndGlyphs" fill="#000" stroke="#000" stroke-width="1" stroke-linejoin="round" >10</text>
<text x="585.56" y="343.60" font-size="21.95" textLength="25.83" lengthAdjust="spacingAndGlyphs" fill="#000" stroke="#000" stroke-width="1" stroke-linejoin="round" >mm</text>
<polygon points="1164.5,171.0 1178.0,178.5 1178.0,193.5 1164.5,201.0 1151.0,193.5 1151.0,178.5" fill="#000"/>
<text x="1151.45" y="212.60" font-size="15.26" textLength="26.04" lengthAdjust="spacingAndGlyphs" fill="#000" stroke="#000" stroke-width="0.8" stroke-linejoin="round" >mm</text>
<text x="1102.54" y="244.31" font-size="27.18" textLength="23.24" lengthAdjust="spacingAndGlyphs" fill="#000" stroke="#000" stroke-width="0.7" stroke-linejoin="round" >17</text>
<polygon points="1134.7,245.5 1139.1,245.5 1143.5,225.0 1139.1,225.0" fill="#000"/>
<text x="1152.61" y="244.31" font-size="27.18" textLength="23.84" lengthAdjust="spacingAndGlyphs" fill="#000" stroke="#000" stroke-width="0.7" stroke-linejoin="round" >19</text>
<polygon points="1184.8,245.5 1189.2,245.5 1193.6,225.0 1189.2,225.0" fill="#000"/>
<text x="1202.60" y="244.31" font-size="27.18" textLength="23.68" lengthAdjust="spacingAndGlyphs" fill="#000" stroke="#000" stroke-width="0.7" stroke-linejoin="round" >21</text>
<rect x="1056.0" y="258.0" width="96" height="96" fill="#fff" stroke="#000" stroke-width="4"/>
<rect x="1178.0" y="258.0" width="96" height="96" fill="#fff" stroke="#000" stroke-width="4"/>
<rect x="1299.75" y="257.75" width="96.5" height="96.5" fill="#fff" stroke="#000" stroke-width="3.5"/>
<rect x="1422.0" y="258.0" width="96" height="96" fill="#fff" stroke="#000" stroke-width="4"/>
<text x="1080.56" y="326.64" font-size="69.01" textLength="46.35" lengthAdjust="spacingAndGlyphs" fill="#000" stroke="#000" stroke-width="3" stroke-linejoin="round" >3x</text>
<text x="1203.73" y="309.52" font-size="48.06" textLength="43.56" lengthAdjust="spacingAndGlyphs" fill="#000" stroke="#000" stroke-width="2" stroke-linejoin="round" >84</text>
<text x="1198.82" y="339.20" font-size="32.37" textLength="54.24" lengthAdjust="spacingAndGlyphs" fill="#000" stroke="#000" stroke-width="1.6" stroke-linejoin="round" >mm</text>
<circle cx="1348" cy="305.5" r="38" fill="#000"/>
<rect x="1326.5" y="284.0" width="43" height="43" fill="#fff"/>
<text x="1338.18" y="307.05" font-size="14.55" textLength="4.19" lengthAdjust="spacingAndGlyphs" fill="#000" stroke="#000" stroke-width="0.9" stroke-linejoin="round" >1</text>
<polygon points="1340.4,315.6 1342.9,315.6 1351.8,297.0 1349.3,297.0" fill="#000"/>
<text x="1348.47" y="315.15" font-size="14.05" textLength="7.65" lengthAdjust="spacingAndGlyphs" fill="#000" stroke="#000" stroke-width="0.9" stroke-linejoin="round" >2</text>
<rect x="1357" y="296.0" width="1.4" height="3.3" fill="#000"/>
<rect x="1360.1" y="296.0" width="1.5" height="3.3" fill="#000"/>
<text x="1427.16" y="325.93" font-size="57.24" textLength="85.60" lengthAdjust="spacingAndGlyphs" fill="#000" stroke="#000" stroke-width="3" stroke-linejoin="round" >CrMo</text>
<rect x="274.0" y="1391.0" width="96" height="96" fill="#fff" stroke="#000" stroke-width="4"/>
<rect x="394.75" y="1390.75" width="96.5" height="96.5" fill="#fff" stroke="#000" stroke-width="3.5"/>
<polygon points="296.0,1425.5 309.0,1403.0 335.0,1403.0 348.0,1425.5 335.0,1448.0 309.0,1448.0" fill="#000"/>
<text x="299.07" y="1476.26" font-size="23.75" textLength="13.03" lengthAdjust="spacingAndGlyphs" fill="#000" stroke="#000" stroke-width="1" stroke-linejoin="round" >10</text>
<text x="319.14" y="1476.50" font-size="22.33" textLength="26.26" lengthAdjust="spacingAndGlyphs" fill="#000" stroke="#000" stroke-width="1" stroke-linejoin="round" >mm</text>
<circle cx="443" cy="1439" r="38" fill="#000"/>
<rect x="421.5" y="1417.5" width="43" height="43" fill="#fff"/>
<text x="433.18" y="1440.55" font-size="14.55" textLength="4.19" lengthAdjust="spacingAndGlyphs" fill="#000" stroke="#000" stroke-width="0.9" stroke-linejoin="round" >1</text>
<polygon points="435.4,1449.1 437.9,1449.1 446.8,1430.5 444.3,1430.5" fill="#000"/>
<text x="443.47" y="1448.65" font-size="14.05" textLength="7.65" lengthAdjust="spacingAndGlyphs" fill="#000" stroke="#000" stroke-width="0.9" stroke-linejoin="round" >2</text>
<rect x="452" y="1429.5" width="1.4" height="3.3" fill="#000"/>
<rect x="455.1" y="1429.5" width="1.5" height="3.3" fill="#000"/>
<rect x="691.0" y="1390.0" width="96" height="96" fill="#fff" stroke="#000" stroke-width="4"/>
<rect x="812.75" y="1389.75" width="96.5" height="96.5" fill="#fff" stroke="#000" stroke-width="3.5"/>
<rect x="935.0" y="1390.0" width="96" height="96" fill="#fff" stroke="#000" stroke-width="4"/>
<text x="713.45" y="1458.81" font-size="69.26" textLength="49.18" lengthAdjust="spacingAndGlyphs" fill="#000" stroke="#000" stroke-width="3" stroke-linejoin="round" >9x</text>
<circle cx="861" cy="1438" r="38" fill="#000"/>
<rect x="839.5" y="1416.5" width="43" height="43" fill="#fff"/>
<text x="851.18" y="1439.55" font-size="14.55" textLength="4.19" lengthAdjust="spacingAndGlyphs" fill="#000" stroke="#000" stroke-width="0.9" stroke-linejoin="round" >1</text>
<polygon points="853.4,1448.1 855.9,1448.1 864.8,1429.5 862.3,1429.5" fill="#000"/>
<text x="861.47" y="1447.65" font-size="14.05" textLength="7.65" lengthAdjust="spacingAndGlyphs" fill="#000" stroke="#000" stroke-width="0.9" stroke-linejoin="round" >2</text>
<rect x="870" y="1428.5" width="1.4" height="3.3" fill="#000"/>
<rect x="873.1" y="1428.5" width="1.5" height="3.3" fill="#000"/>
<text x="940.15" y="1458.82" font-size="58.09" textLength="86.02" lengthAdjust="spacingAndGlyphs" fill="#000" stroke="#000" stroke-width="3" stroke-linejoin="round" >CrMo</text>
<text x="698.20" y="1532.51" font-size="26.90" textLength="24.07" lengthAdjust="spacingAndGlyphs" fill="#000" stroke="#000" stroke-width="0.7" stroke-linejoin="round" >10</text>
<polygon points="730.9,1533.7 735.3,1533.7 740.1,1513.4 735.7,1513.4" fill="#000"/>
<text x="749.04" y="1532.51" font-size="26.90" textLength="23.30" lengthAdjust="spacingAndGlyphs" fill="#000" stroke="#000" stroke-width="0.7" stroke-linejoin="round" >12</text>
<polygon points="781.0,1533.7 785.4,1533.7 790.2,1513.4 785.8,1513.4" fill="#000"/>
<text x="799.00" y="1532.51" font-size="26.90" textLength="24.06" lengthAdjust="spacingAndGlyphs" fill="#000" stroke="#000" stroke-width="0.7" stroke-linejoin="round" >13</text>
<polygon points="831.0,1533.7 835.4,1533.7 840.3,1513.4 835.9,1513.4" fill="#000"/>
<text x="848.99" y="1532.51" font-size="26.90" textLength="24.22" lengthAdjust="spacingAndGlyphs" fill="#000" stroke="#000" stroke-width="0.7" stroke-linejoin="round" >14</text>
<polygon points="881.9,1533.7 886.3,1533.7 891.0,1513.4 886.6,1513.4" fill="#000"/>
<text x="900.01" y="1532.51" font-size="26.90" textLength="23.77" lengthAdjust="spacingAndGlyphs" fill="#000" stroke="#000" stroke-width="0.7" stroke-linejoin="round" >15</text>
<polygon points="713.3,1566.1 717.7,1566.1 722.4,1546.0 718.0,1546.0" fill="#000"/>
<text x="732.00" y="1564.92" font-size="26.62" textLength="24.06" lengthAdjust="spacingAndGlyphs" fill="#000" stroke="#000" stroke-width="0.7" stroke-linejoin="round" >16</text>
<polygon points="764.0,1566.1 768.4,1566.1 773.2,1546.0 768.8,1546.0" fill="#000"/>
<text x="782.80" y="1564.92" font-size="26.62" textLength="23.94" lengthAdjust="spacingAndGlyphs" fill="#000" stroke="#000" stroke-width="0.7" stroke-linejoin="round" >18</text>
<polygon points="814.9,1566.1 819.3,1566.1 824.0,1546.0 819.6,1546.0" fill="#000"/>
<text x="832.76" y="1564.92" font-size="26.62" textLength="25.04" lengthAdjust="spacingAndGlyphs" fill="#000" stroke="#000" stroke-width="0.7" stroke-linejoin="round" >20</text>
<polygon points="865.6,1566.1 870.0,1566.1 874.8,1546.0 870.4,1546.0" fill="#000"/>
<text x="883.56" y="1564.92" font-size="26.62" textLength="25.04" lengthAdjust="spacingAndGlyphs" fill="#000" stroke="#000" stroke-width="0.7" stroke-linejoin="round" >22</text>
<polygon points="810.5,1590.0 823.5,1597.5 823.5,1612.5 810.5,1620.0 797.5,1612.5 797.5,1597.5" fill="#000"/>
<text x="797.45" y="1631.60" font-size="14.51" textLength="26.04" lengthAdjust="spacingAndGlyphs" fill="#000" stroke="#000" stroke-width="0.8" stroke-linejoin="round" >mm</text>
<rect x="1265.0" y="1391.0" width="96" height="96" fill="#fff" stroke="#000" stroke-width="4"/>
<rect x="1386.75" y="1390.75" width="96.5" height="96.5" fill="#fff" stroke="#000" stroke-width="3.5"/>
<rect x="1509.0" y="1391.0" width="96" height="96" fill="#fff" stroke="#000" stroke-width="4"/>
<text x="1290.90" y="1442.52" font-size="48.06" textLength="44.39" lengthAdjust="spacingAndGlyphs" fill="#000" stroke="#000" stroke-width="2" stroke-linejoin="round" >70</text>
<text x="1286.35" y="1472.20" font-size="32.74" textLength="53.38" lengthAdjust="spacingAndGlyphs" fill="#000" stroke="#000" stroke-width="1.6" stroke-linejoin="round" >mm</text>
<circle cx="1435" cy="1439" r="38" fill="#000"/>
<rect x="1413.5" y="1417.5" width="43" height="43" fill="#fff"/>
<text x="1425.18" y="1440.55" font-size="14.55" textLength="4.19" lengthAdjust="spacingAndGlyphs" fill="#000" stroke="#000" stroke-width="0.9" stroke-linejoin="round" >1</text>
<polygon points="1427.4,1449.1 1429.9,1449.1 1438.8,1430.5 1436.3,1430.5" fill="#000"/>
<text x="1435.47" y="1448.65" font-size="14.05" textLength="7.65" lengthAdjust="spacingAndGlyphs" fill="#000" stroke="#000" stroke-width="0.9" stroke-linejoin="round" >2</text>
<rect x="1444" y="1429.5" width="1.4" height="3.3" fill="#000"/>
<rect x="1447.1" y="1429.5" width="1.5" height="3.3" fill="#000"/>
<text x="1564.82" y="1412.50" font-size="17.75" textLength="4.76" lengthAdjust="spacingAndGlyphs" fill="#000" stroke="#000" stroke-width="0.6" stroke-linejoin="round" >E</text>
<text x="1574.92" y="1412.33" font-size="17.24" textLength="5.65" lengthAdjust="spacingAndGlyphs" fill="#000" stroke="#000" stroke-width="0.6" stroke-linejoin="round" >6</text>
<rect x="1583" y="1410.6" width="1.8" height="2.2" fill="#000"/>
<text x="1586.06" y="1412.29" font-size="17.18" textLength="6.04" lengthAdjust="spacingAndGlyphs" fill="#000" stroke="#000" stroke-width="0.6" stroke-linejoin="round" >3</text>
<text x="1526.57" y="1436.35" font-size="17.31" textLength="3.35" lengthAdjust="spacingAndGlyphs" fill="#000" stroke="#000" stroke-width="0.5" stroke-linejoin="round" >1</text>
<polygon points="1532.0,1443.8 1534.2,1443.8 1538.0,1426.5 1535.8,1426.5" fill="#000"/>
<text x="1540.10" y="1445.25" font-size="17.45" textLength="5.41" lengthAdjust="spacingAndGlyphs" fill="#000" stroke="#000" stroke-width="0.5" stroke-linejoin="round" >4</text>
<polygon points="1548.2,1432.6 1549.3,1432.6 1550.4,1427.5 1549.2,1427.5" fill="#000"/>
<polygon points="1551.8,1432.6 1552.9,1432.6 1554,1427.5 1552.8,1427.5" fill="#000"/>
<polygon points="1522.0,1464.5 1529.9,1451.0 1545.7,1451.0 1553.6,1464.5 1545.7,1478.0 1529.9,1478.0" fill="#000"/>
<path d="M1566,1424 L1567.6,1421.7 L1590,1421.7 L1591.6,1424" fill="none" stroke="#000" stroke-width="1.1"/>
<rect x="1564.7" y="1425.2" width="5.3" height="20.5" rx="2.6" fill="none" stroke="#000" stroke-width="1.1"/>
<rect x="1572.2" y="1425.2" width="12.6" height="21.6" rx="3" fill="none" stroke="#000" stroke-width="1.1"/>
<rect x="1573.8" y="1426.8" width="9.4" height="18.2" rx="2.4" fill="none" stroke="#000" stroke-width="1.1"/>
<rect x="1586.6" y="1425.2" width="5.3" height="20.5" rx="2.6" fill="none" stroke="#000" stroke-width="1.1"/>
<path d="M1566.5,1447 L1591,1447 M1566.8,1447.5 Q1571.5,1455 1566.8,1462.7 M1590.6,1447.5 Q1585.9,1455 1590.6,1462.7 M1566.5,1463.2 L1591,1463.2" fill="none" stroke="#000" stroke-width="1.1"/>
<rect x="1564.7" y="1465" width="5.3" height="14" rx="2.2" fill="none" stroke="#000" stroke-width="1.1"/>
<rect x="1572.2" y="1465" width="12.6" height="14.4" rx="2.6" fill="none" stroke="#000" stroke-width="1.1"/>
<rect x="1573.8" y="1466.6" width="9.4" height="12" rx="2" fill="none" stroke="#000" stroke-width="1.1"/>
<rect x="1586.6" y="1465" width="5.3" height="14" rx="2.2" fill="none" stroke="#000" stroke-width="1.1"/>
<rect x="0" y="0" width="1" height="1" fill="#5a5a5a"/>
<rect x="1771" y="0" width="1" height="1" fill="#5a5a5a"/>
<rect x="0" y="1771" width="1" height="1" fill="#5a5a5a"/>
<rect x="1771" y="1771" width="1" height="1" fill="#5a5a5a"/>
</svg>
</body></html>
